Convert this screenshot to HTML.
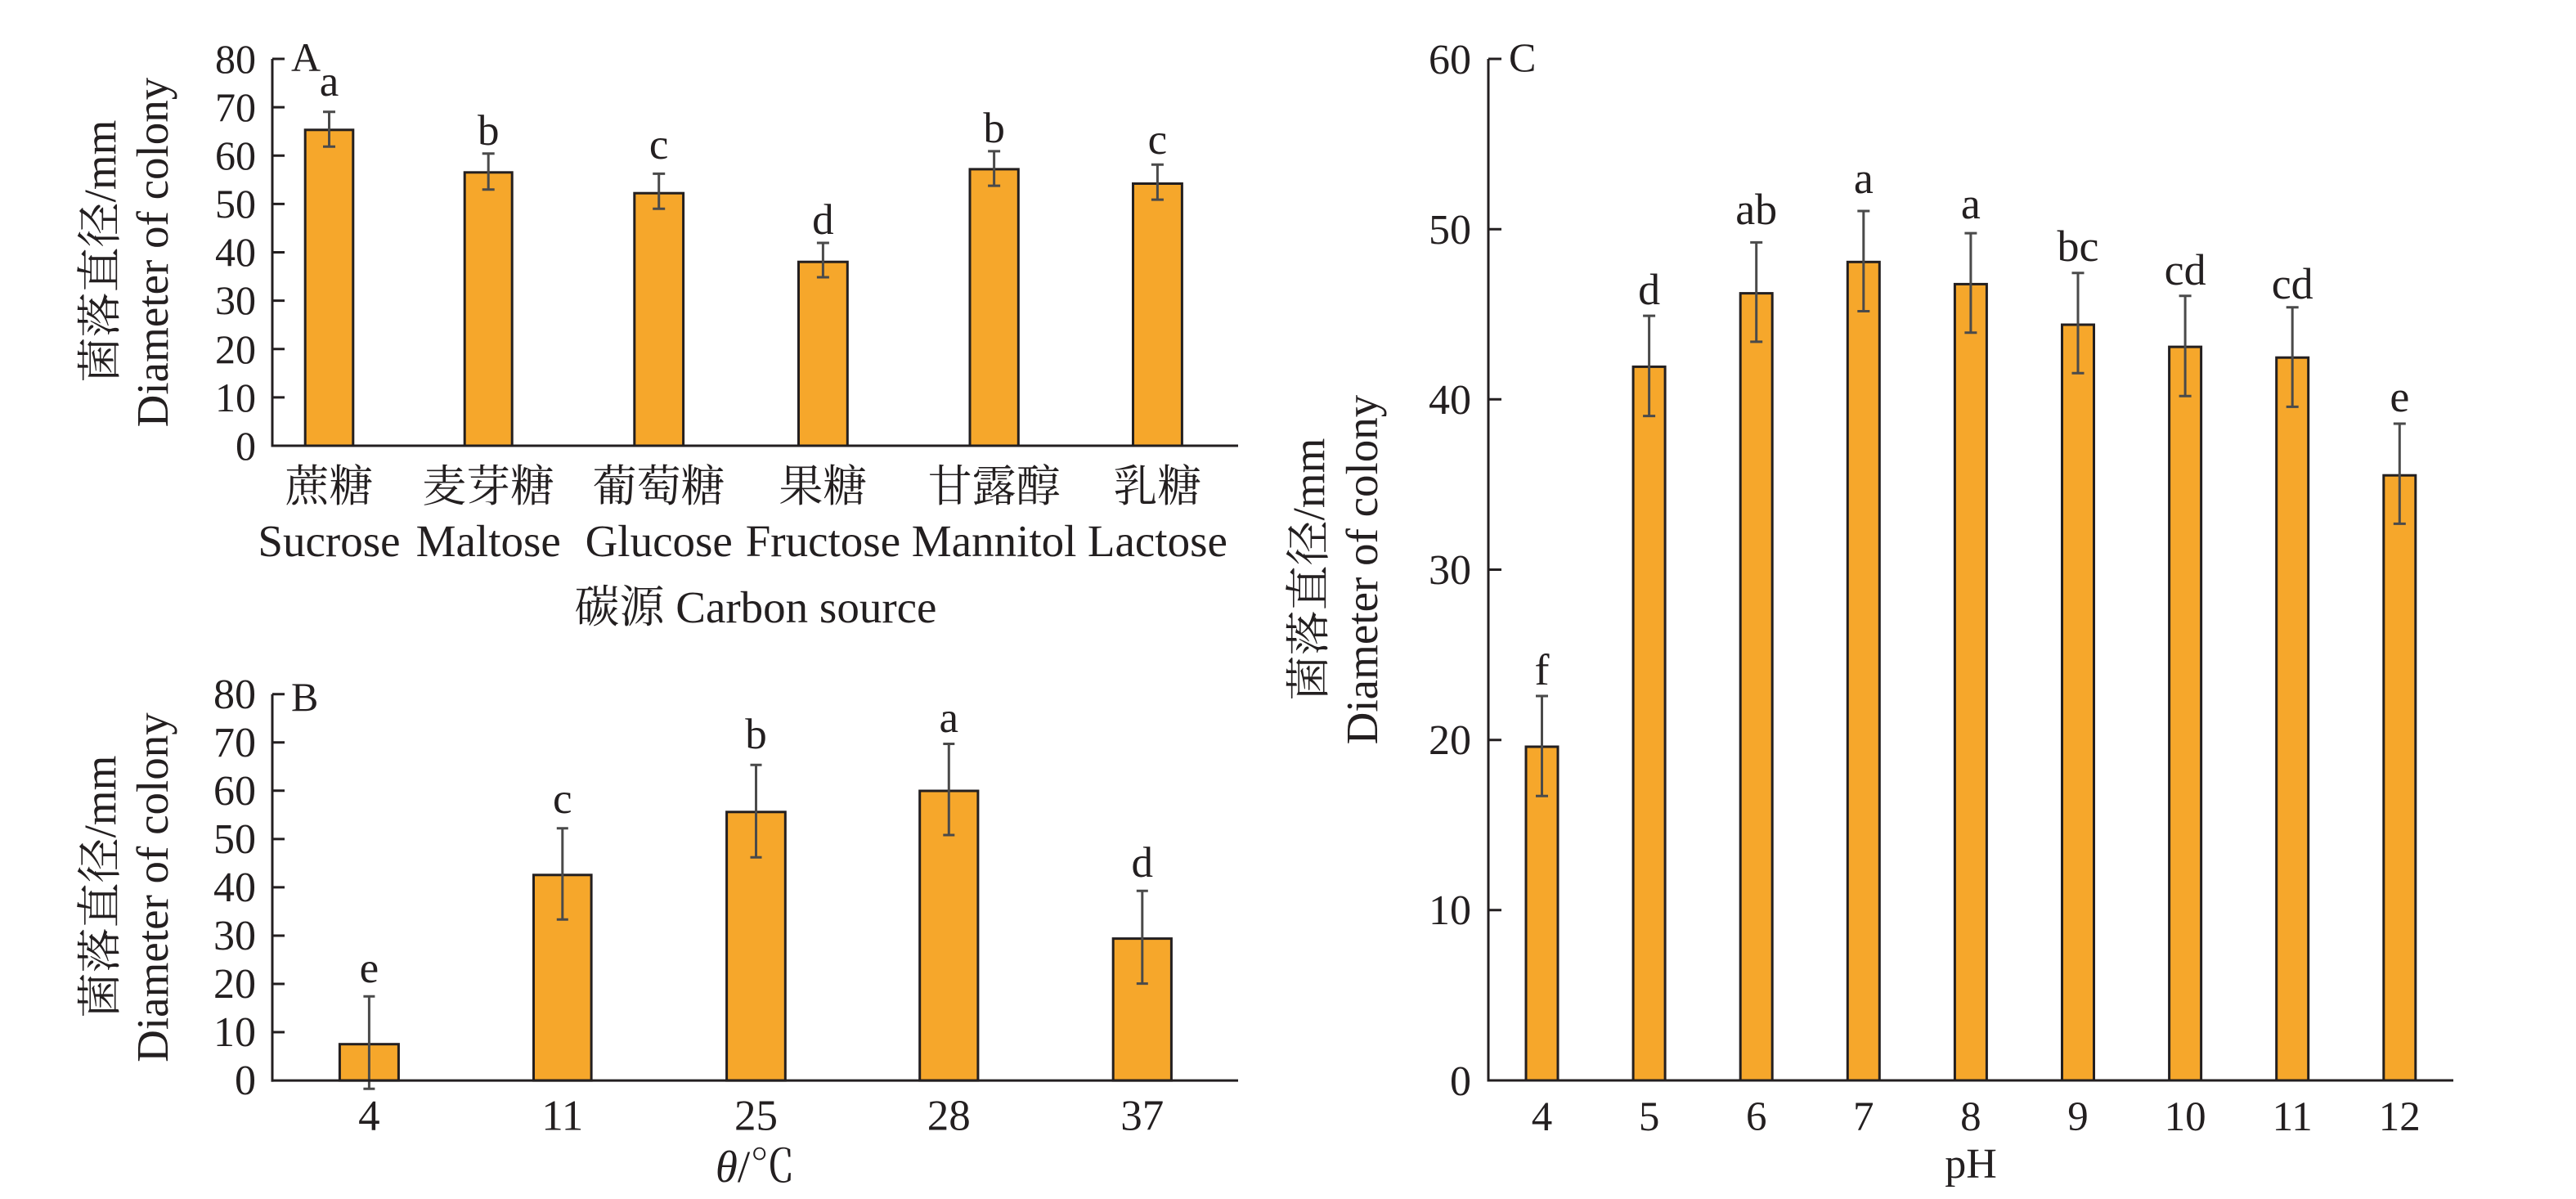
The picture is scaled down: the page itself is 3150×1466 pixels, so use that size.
<!DOCTYPE html>
<html>
<head>
<meta charset="utf-8">
<style>
html,body{margin:0;padding:0;background:#fff;}
svg{display:block;}
text{font-family:"Liberation Serif","Noto Serif CJK SC",serif;fill:#231f20;}
.cjk{font-family:"Liberation Serif","Noto Serif CJK SC","Noto Sans CJK SC",serif;}
.tk{font-size:50px;}
.lt{font-size:53px;}
.xl{font-size:55px;}
.yl{font-size:55px;}
</style>
</head>
<body>
<svg width="3150" height="1466" viewBox="0 0 3150 1466" xmlns="http://www.w3.org/2000/svg">
<rect x="0" y="0" width="3150" height="1466" fill="#fff"/>

<!-- ================= PANEL A ================= -->
<g>
  <!-- bars -->
  <g fill="#f6a72b" stroke="#231f20" stroke-width="3">
    <rect x="373.2" y="158.8" width="58.6" height="386.2"/>
    <rect x="568.2" y="210.8" width="58" height="334.2"/>
    <rect x="775.8" y="236.2" width="59.8" height="308.8"/>
    <rect x="976.5" y="320.2" width="59.8" height="224.8"/>
    <rect x="1186" y="206.9" width="59.3" height="338.1"/>
    <rect x="1385.5" y="224.5" width="59.9" height="320.5"/>
  </g>
  <!-- error bars -->
  <g stroke="#4a4a4a" stroke-width="3" fill="none">
    <path d="M402.5 136.7V179.3M395 136.7H410M395 179.3H410"/>
    <path d="M597.2 187.7V231.7M589.7 187.7H604.7M589.7 231.7H604.7"/>
    <path d="M805.7 212.4V255.3M798.2 212.4H813.2M798.2 255.3H813.2"/>
    <path d="M1006.4 297V339M998.9 297H1013.9M998.9 339H1013.9"/>
    <path d="M1215.6 184.9V227.1M1208.1 184.9H1223.1M1208.1 227.1H1223.1"/>
    <path d="M1415.4 201.3V244.1M1407.9 201.3H1422.9M1407.9 244.1H1422.9"/>
  </g>
  <!-- axes -->
  <g stroke="#231f20" stroke-width="3" fill="none">
    <path d="M333 72V546.5"/>
    <path d="M331.5 545H1514"/>
    <path d="M333 72H348M333 131.1H348M333 190.25H348M333 249.4H348M333 308.5H348M333 367.6H348M333 426.75H348M333 485.9H348"/>
  </g>
  <!-- y tick labels -->
  <g class="tk" text-anchor="end">
    <text x="313" y="89">80</text>
    <text x="313" y="148">70</text>
    <text x="313" y="207">60</text>
    <text x="313" y="266">50</text>
    <text x="313" y="325">40</text>
    <text x="313" y="384">30</text>
    <text x="313" y="444">20</text>
    <text x="313" y="503">10</text>
    <text x="313" y="562">0</text>
  </g>
  <text class="tk" x="356" y="87">A</text>
  <!-- letters -->
  <g class="lt" text-anchor="middle">
    <text x="402.5" y="117">a</text>
    <text x="597.2" y="177">b</text>
    <text x="805.7" y="194">c</text>
    <text x="1006.4" y="286">d</text>
    <text x="1215.6" y="174">b</text>
    <text x="1415.4" y="188">c</text>
  </g>
  <!-- x labels -->
  <g class="xl cjk" text-anchor="middle" style="font-size:54px">
    <text x="402.5" y="613">蔗糖</text>
    <text x="597.2" y="613">麦芽糖</text>
    <text x="805.7" y="613">葡萄糖</text>
    <text x="1006.4" y="613">果糖</text>
    <text x="1215.6" y="613">甘露醇</text>
    <text x="1415.4" y="613">乳糖</text>
  </g>
  <g class="xl" text-anchor="middle">
    <text x="402.5" y="680">Sucrose</text>
    <text x="597.2" y="680">Maltose</text>
    <text x="805.7" y="680">Glucose</text>
    <text x="1006.4" y="680">Fructose</text>
    <text x="1215.6" y="680">Mannitol</text>
    <text x="1415.4" y="680">Lactose</text>
  </g>
  <text class="xl cjk" x="924" y="761" text-anchor="middle">碳源 Carbon source</text>
  <!-- y label -->
  <text class="yl cjk" text-anchor="middle" transform="translate(141,307) rotate(-90)">菌落直径/mm</text>
  <text class="yl" text-anchor="middle" transform="translate(205,308.5) rotate(-90)">Diameter of colony</text>
</g>

<!-- ================= PANEL B ================= -->
<g>
  <g fill="#f6a72b" stroke="#231f20" stroke-width="3">
    <rect x="415.4" y="1276.7" width="72" height="44.4"/>
    <rect x="652.5" y="1069.8" width="70.6" height="251.3"/>
    <rect x="888.6" y="992.8" width="71.7" height="328.3"/>
    <rect x="1124.7" y="967" width="71.2" height="354.1"/>
    <rect x="1361.2" y="1147.6" width="71.2" height="173.5"/>
  </g>
  <g stroke="#4a4a4a" stroke-width="3" fill="none">
    <path d="M451.4 1218.3V1331.2M444.4 1218.3H458.4M444.4 1331.2H458.4"/>
    <path d="M687.8 1012.7V1124.3M680.8 1012.7H694.8M680.8 1124.3H694.8"/>
    <path d="M924.5 935.3V1048.2M917.5 935.3H931.5M917.5 1048.2H931.5"/>
    <path d="M1160.3 909.5V1021M1153.3 909.5H1167.3M1153.3 1021H1167.3"/>
    <path d="M1396.8 1089.3V1202.6M1389.8 1089.3H1403.8M1389.8 1202.6H1403.8"/>
  </g>
  <g stroke="#231f20" stroke-width="3" fill="none">
    <path d="M333 848.7V1322.6"/>
    <path d="M331.5 1321.1H1514"/>
    <path d="M333 848.7H348M333 907.75H348M333 966.8H348M333 1025.85H348M333 1084.9H348M333 1143.95H348M333 1203H348M333 1262.05H348"/>
  </g>
  <g class="tk" text-anchor="end" style="font-size:52px">
    <text x="313" y="866">80</text>
    <text x="313" y="925">70</text>
    <text x="313" y="984">60</text>
    <text x="313" y="1043">50</text>
    <text x="313" y="1102">40</text>
    <text x="313" y="1161">30</text>
    <text x="313" y="1220">20</text>
    <text x="313" y="1279">10</text>
    <text x="313" y="1338">0</text>
  </g>
  <text class="tk" x="356" y="869">B</text>
  <g class="lt" text-anchor="middle">
    <text x="451.4" y="1201">e</text>
    <text x="687.8" y="994">c</text>
    <text x="924.5" y="915">b</text>
    <text x="1160.3" y="895">a</text>
    <text x="1396.8" y="1072">d</text>
  </g>
  <g class="tk" text-anchor="middle" style="font-size:53px">
    <text x="451.4" y="1381.5">4</text>
    <text x="687.8" y="1381.5">11</text>
    <text x="924.5" y="1381.5">25</text>
    <text x="1160.3" y="1381.5">28</text>
    <text x="1396.8" y="1381.5">37</text>
  </g>
  <text class="xl cjk" x="923.5" y="1445" text-anchor="middle"><tspan font-style="italic">θ</tspan>/℃</text>
  <text class="yl cjk" text-anchor="middle" transform="translate(141,1084) rotate(-90)">菌落直径/mm</text>
  <text class="yl" text-anchor="middle" transform="translate(205,1085) rotate(-90)">Diameter of colony</text>
</g>

<!-- ================= PANEL C ================= -->
<g>
  <g fill="#f6a72b" stroke="#231f20" stroke-width="3">
    <rect x="1866" y="913" width="39" height="408"/>
    <rect x="1997.1" y="448.4" width="39" height="872.6"/>
    <rect x="2128.2" y="358.6" width="39" height="962.4"/>
    <rect x="2259.3" y="320.3" width="39" height="1000.7"/>
    <rect x="2390.4" y="347.4" width="39" height="973.6"/>
    <rect x="2521.5" y="397" width="39" height="924"/>
    <rect x="2652.6" y="424.1" width="39" height="896.9"/>
    <rect x="2783.7" y="437.2" width="39" height="883.8"/>
    <rect x="2914.8" y="581.2" width="39" height="739.8"/>
  </g>
  <g stroke="#4a4a4a" stroke-width="3" fill="none">
    <path d="M1885.5 851V973.3M1878 851H1893M1878 973.3H1893"/>
    <path d="M2016.6 386.1V508.6M2009.1 386.1H2024.1M2009.1 508.6H2024.1"/>
    <path d="M2147.7 296.4V417.9M2140.2 296.4H2155.2M2140.2 417.9H2155.2"/>
    <path d="M2278.8 258V380.5M2271.3 258H2286.3M2271.3 380.5H2286.3"/>
    <path d="M2409.9 285.1V406.7M2402.4 285.1H2417.4M2402.4 406.7H2417.4"/>
    <path d="M2541 333.8V456.2M2533.5 333.8H2548.5M2533.5 456.2H2548.5"/>
    <path d="M2672.1 361.8V484.3M2664.6 361.8H2679.6M2664.6 484.3H2679.6"/>
    <path d="M2803.2 375.8V497.4M2795.7 375.8H2810.7M2795.7 497.4H2810.7"/>
    <path d="M2934.3 518V640.4M2926.8 518H2941.8M2926.8 640.4H2941.8"/>
  </g>
  <g stroke="#231f20" stroke-width="3" fill="none">
    <path d="M1820 72V1322.5"/>
    <path d="M1818.5 1321H3000"/>
    <path d="M1820 72H1836M1820 280.2H1836M1820 488.3H1836M1820 696.5H1836M1820 904.7H1836M1820 1112.8H1836"/>
  </g>
  <g class="tk" text-anchor="end" style="font-size:52px">
    <text x="1799" y="90">60</text>
    <text x="1799" y="298">50</text>
    <text x="1799" y="506">40</text>
    <text x="1799" y="714">30</text>
    <text x="1799" y="922">20</text>
    <text x="1799" y="1130">10</text>
    <text x="1799" y="1339">0</text>
  </g>
  <text class="tk" x="1845" y="87">C</text>
  <g class="lt" text-anchor="middle" style="font-size:54px">
    <text x="1885.5" y="837">f</text>
    <text x="2016.6" y="372">d</text>
    <text x="2147.7" y="274">ab</text>
    <text x="2278.8" y="236">a</text>
    <text x="2409.9" y="267">a</text>
    <text x="2541" y="319">bc</text>
    <text x="2672.1" y="348">cd</text>
    <text x="2803.2" y="365">cd</text>
    <text x="2934.3" y="503">e</text>
  </g>
  <g class="tk" text-anchor="middle" style="font-size:51px">
    <text x="1885.5" y="1382">4</text>
    <text x="2016.6" y="1382">5</text>
    <text x="2147.7" y="1382">6</text>
    <text x="2278.8" y="1382">7</text>
    <text x="2409.9" y="1382">8</text>
    <text x="2541" y="1382">9</text>
    <text x="2672.1" y="1382">10</text>
    <text x="2803.2" y="1382">11</text>
    <text x="2934.3" y="1382">12</text>
  </g>
  <text class="tk" x="2410" y="1440" text-anchor="middle" style="font-size:52px">pH</text>
  <text class="yl cjk" text-anchor="middle" transform="translate(1619,696) rotate(-90)">菌落直径/mm</text>
  <text class="yl" text-anchor="middle" transform="translate(1684,696.5) rotate(-90)">Diameter of colony</text>
</g>
</svg>
</body>
</html>
